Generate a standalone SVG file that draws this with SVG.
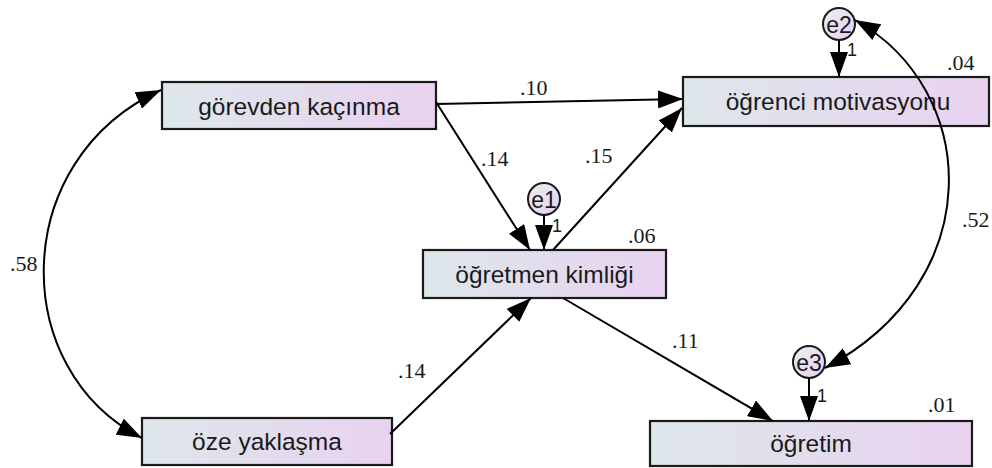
<svg xmlns="http://www.w3.org/2000/svg" width="992" height="468" viewBox="0 0 992 468">
<defs>
<linearGradient id="bg" x1="0" y1="0" x2="1" y2="0">
<stop offset="0" stop-color="#dde7ea"/>
<stop offset="1" stop-color="#e9d2f1"/>
</linearGradient>
<linearGradient id="cg" x1="0" y1="0" x2="1" y2="1">
<stop offset="0" stop-color="#eeeef2"/>
<stop offset="1" stop-color="#e4cfef"/>
</linearGradient>
<marker id="ah" viewBox="0 0 25 18" refX="25" refY="9" markerWidth="25" markerHeight="18" markerUnits="userSpaceOnUse" orient="auto-start-reverse">
<path d="M0,0 L25,9 L0,18 z" fill="#000"/>
</marker>
<style>
.box{fill:url(#bg);stroke:#1a1a1a;stroke-width:2.2}
.err{fill:url(#cg);stroke:#1a1a1a;stroke-width:2}
.lbl{font-family:"Liberation Sans",Arial,sans-serif;font-size:24.5px;fill:#1a1a1a;text-anchor:middle}
.elb{font-family:"Liberation Sans",Arial,sans-serif;font-size:23px;fill:#1a1a1a;text-anchor:middle}
.one{font-family:"Liberation Sans",Arial,sans-serif;font-size:18px;fill:#1a1a1a}
.num{font-family:"Liberation Serif","Times New Roman",serif;font-size:22px;fill:#1a1a1a}
.con{fill:none;stroke:#000;stroke-width:2;marker-end:url(#ah)}
.cov{fill:none;stroke:#000;stroke-width:2;marker-end:url(#ah);marker-start:url(#ah)}
</style>
</defs>
<rect width="992" height="468" fill="#fff"/>
<g id="gorevden">
<rect class="box" x="162" y="82" width="274" height="47"/>
<text class="lbl" x="299" y="115">görevden kaçınma</text>
</g>
<g id="ogrenci">
<rect class="box" x="683" y="77" width="306" height="49"/>
<text class="lbl" x="838" y="110">öğrenci motivasyonu</text>
</g>
<g id="ogretmen">
<rect class="box" x="423" y="250" width="243" height="48"/>
<text class="lbl" x="544.5" y="283">öğretmen kimliği</text>
</g>
<g id="ogretim">
<rect class="box" x="650" y="421" width="322" height="45"/>
<text class="lbl" x="811" y="452">öğretim</text>
</g>
<g id="oze">
<rect class="box" x="142" y="418" width="250" height="47"/>
<text class="lbl" x="267" y="450">öze yaklaşma</text>
</g>
<g id="e1">
<circle class="err" cx="544" cy="199" r="16"/>
<text class="elb" x="544" y="207.5">e1</text>
<text class="one" x="552" y="232">1</text>
</g>
<g id="e2">
<circle class="err" cx="839" cy="24" r="16"/>
<text class="elb" x="839" y="32.5">e2</text>
<text class="one" x="847" y="56">1</text>
</g>
<g id="e3">
<circle class="err" cx="809" cy="362" r="16"/>
<text class="elb" x="809" y="370.5">e3</text>
<text class="one" x="817" y="402">1</text>
</g>
<g id="connectors">
<path class="con" d="M436,104 L683,99"/>
<path class="con" d="M436,102 L530,250"/>
<path class="con" d="M553,250 L682,108"/>
<path class="con" d="M390,434 L531,298"/>
<path class="con" d="M563,298 L773,421"/>
<path class="con" d="M544,215 L544,250"/>
<path class="con" d="M839,40 L839,77"/>
<path class="con" d="M809,378 L809,421"/>
<path class="cov" d="M855,20 C980,90 990,280 825,368"/>
<path class="cov" d="M161,90 C8,160 8,370 142,438"/>
</g>
<g id="labels">
<text class="num" x="520" y="95">.10</text>
<text class="num" x="481" y="166">.14</text>
<text class="num" x="585" y="163">.15</text>
<text class="num" x="628" y="243">.06</text>
<text class="num" x="398" y="378">.14</text>
<text class="num" x="672" y="348">.11</text>
<text class="num" x="928" y="412">.01</text>
<text class="num" x="947" y="70">.04</text>
<text class="num" x="962" y="227">.52</text>
<text class="num" x="10" y="271">.58</text>
</g>
</svg>
